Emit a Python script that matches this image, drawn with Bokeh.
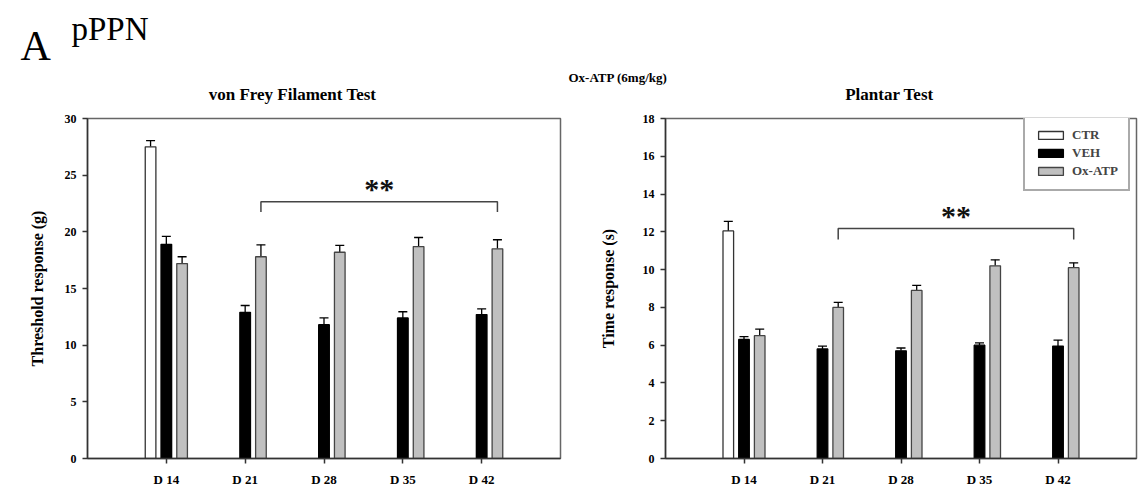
from bokeh.plotting import figure
from bokeh.models import (Range1d, FixedTicker, Whisker, TeeHead, ColumnDataSource,
                          Legend, LegendItem, Label)
from bokeh.layouts import column, row
from bokeh.embed import file_html
from bokeh.resources import INLINE

# ---------------- data ----------------
days = ["D 14", "D 21", "D 28", "D 35", "D 42"]
groups = ["CTR", "VEH", "Ox-ATP"]

# von Frey Filament Test: threshold response (g)
vf_ctr = [27.5, None, None, None, None]
vf_ctr_err = [0.55, None, None, None, None]
vf_veh = [18.9, 12.9, 11.8, 12.4, 12.7]
vf_veh_err = [0.7, 0.6, 0.6, 0.55, 0.5]
vf_ox = [17.2, 17.8, 18.2, 18.7, 18.5]
vf_ox_err = [0.6, 1.05, 0.6, 0.8, 0.8]

# Plantar Test: time response (s)
pl_ctr = [12.05, None, None, None, None]
pl_ctr_err = [0.5, None, None, None, None]
pl_veh = [6.3, 5.8, 5.7, 6.0, 5.95]
pl_veh_err = [0.15, 0.15, 0.15, 0.12, 0.32]
pl_ox = [6.5, 8.0, 8.9, 10.2, 10.1]
pl_ox_err = [0.35, 0.27, 0.27, 0.32, 0.26]

# significance brackets (y levels in data units) spanning D 21 .. D 42 Ox-ATP bars
vf_bracket = (22.65, 21.75)
pl_bracket = (12.17, 11.6)
bracket_from, bracket_to = "D 21", "D 42"
sig_text = "**"

SERIF = "Liberation Serif"
OFFSETS = {"CTR": -0.2, "VEH": 0.0, "Ox-ATP": 0.2}
FILLS = {"CTR": "white", "VEH": "black", "Ox-ATP": "#c0c0c0"}
LINES = {"CTR": "#333333", "VEH": "black", "Ox-ATP": "#444444"}

HEADER_H = 110


def panel(series, ymax, ystep, ylabel, bracket, width, bl, br, label_standoff, legend_loc=None):
    p = figure(width=width, height=489 - HEADER_H, x_range=Range1d(-1, 5), y_range=Range1d(0, ymax),
               output_backend="svg", toolbar_location=None,
               min_border_left=bl, min_border_right=br, min_border_top=118 - HEADER_H,
               min_border_bottom=28)
    p.grid.visible = False
    p.background_fill_color = "white"
    p.border_fill_color = "white"
    p.outline_line_color = "#666666"
    p.outline_line_width = 1.5

    idx = list(range(len(days)))
    items = []
    for name, (vals, errs) in zip(groups, series):
        keep = [i for i, v in zip(idx, vals) if v is not None]
        xs = [i + OFFSETS[name] for i in keep]
        tops = [vals[i] for i in keep]
        ups = [vals[i] + errs[i] for i in keep]
        src = ColumnDataSource(dict(x=xs, top=tops, upper=ups))
        r = p.vbar(x="x", top="top", bottom=0, width=0.135, source=src,
                   fill_color=FILLS[name], line_color=LINES[name], line_width=1.3)
        p.add_layout(Whisker(source=src, base="x", lower="top", upper="upper", dimension="height",
                             line_color="black", line_width=1.3,
                             upper_head=TeeHead(size=9, line_color="black", line_width=1.3),
                             lower_head=None))
        items.append(LegendItem(label=name, renderers=[r]))

    # bracket
    x0 = days.index(bracket_from) + OFFSETS["Ox-ATP"]
    x1 = days.index(bracket_to) + OFFSETS["Ox-ATP"]
    top, foot = bracket
    p.line(x=[x0, x0, x1, x1], y=[foot, top, top, foot], line_color="#444444", line_width=1.5)
    p.add_layout(Label(x=(x0 + x1) / 2, y=top, text=sig_text, text_align="center",
                       text_baseline="middle", y_offset=13, text_font=SERIF,
                       text_font_style="bold", text_font_size="30px", text_color="#111111"))

    # axes
    p.xaxis.ticker = FixedTicker(ticks=idx)
    p.xaxis.major_label_overrides = {i: d for i, d in enumerate(days)}
    p.yaxis.ticker = FixedTicker(ticks=list(range(0, ymax + 1, ystep)))
    for ax in (p.xaxis[0], p.yaxis[0]):
        ax.major_tick_in = 0
        ax.major_tick_out = 5
        ax.minor_tick_in = 0
        ax.minor_tick_out = 0
        ax.axis_line_color = "#333333"
        ax.axis_line_width = 1.5
        ax.major_tick_line_color = "#333333"
        ax.major_tick_line_width = 1.5
        ax.major_label_text_font = SERIF
        ax.major_label_text_font_style = "bold"
        ax.major_label_text_font_size = "12px"
        ax.major_label_text_color = "black"
    p.xaxis.major_label_text_font_size = "13px"
    p.xaxis.major_label_standoff = 8
    p.yaxis.major_label_standoff = 6
    p.yaxis.axis_label = ylabel
    p.yaxis.axis_label_text_font = SERIF
    p.yaxis.axis_label_text_font_style = "bold"
    p.yaxis.axis_label_text_font_size = "16px"
    p.yaxis.axis_label_text_color = "black"
    p.yaxis.axis_label_standoff = label_standoff

    if legend_loc is not None:
        lg = Legend(items=items, location=legend_loc, border_line_color="#555555",
                    border_line_width=2, background_fill_color="white", background_fill_alpha=1,
                    label_text_font=SERIF, label_text_font_style="bold",
                    label_text_font_size="13px", glyph_width=31, glyph_height=10,
                    label_height=12, padding=10, spacing=2, label_standoff=6, margin=0)
        p.add_layout(lg)
    return p


left = panel([(vf_ctr, vf_ctr_err), (vf_veh, vf_veh_err), (vf_ox, vf_ox_err)],
             30, 5, "Threshold response (g)", vf_bracket, 596, 87, 36, 16)
right = panel([(pl_ctr, pl_ctr_err), (pl_veh, pl_veh_err), (pl_ox, pl_ox_err)],
              18, 2, "Time response (s)", pl_bracket, 545, 66, 5, 23, legend_loc=(358, 267))

# header with panel letters and titles
h = figure(width=1141, height=HEADER_H, x_range=Range1d(0, 1141), y_range=Range1d(HEADER_H, 0),
           output_backend="svg", toolbar_location=None, min_border=0,
           x_axis_location=None, y_axis_location=None)
h.grid.visible = False
h.outline_line_color = None
h.border_fill_color = "white"
header_texts = [
    (20, 45, "A", "42px", "normal", "left"),
    (71, 28, "pPPN", "33px", "normal", "left"),
    (292, 94, "von Frey Filament Test", "17px", "bold", "center"),
    (568, 77, "Ox-ATP (6mg/kg)", "13px", "bold", "left"),
    (889, 94, "Plantar Test", "17px", "bold", "center"),
]
for x, y, t, fs, st, al in header_texts:
    h.add_layout(Label(x=x, y=y, text=t, text_font=SERIF, text_font_size=fs,
                       text_font_style=st, text_align=al, text_baseline="alphabetic",
                       text_color="black"))

layout = column(h, row(left, right, spacing=0), spacing=0)
open("out.html", "w").write(file_html(layout, INLINE))
